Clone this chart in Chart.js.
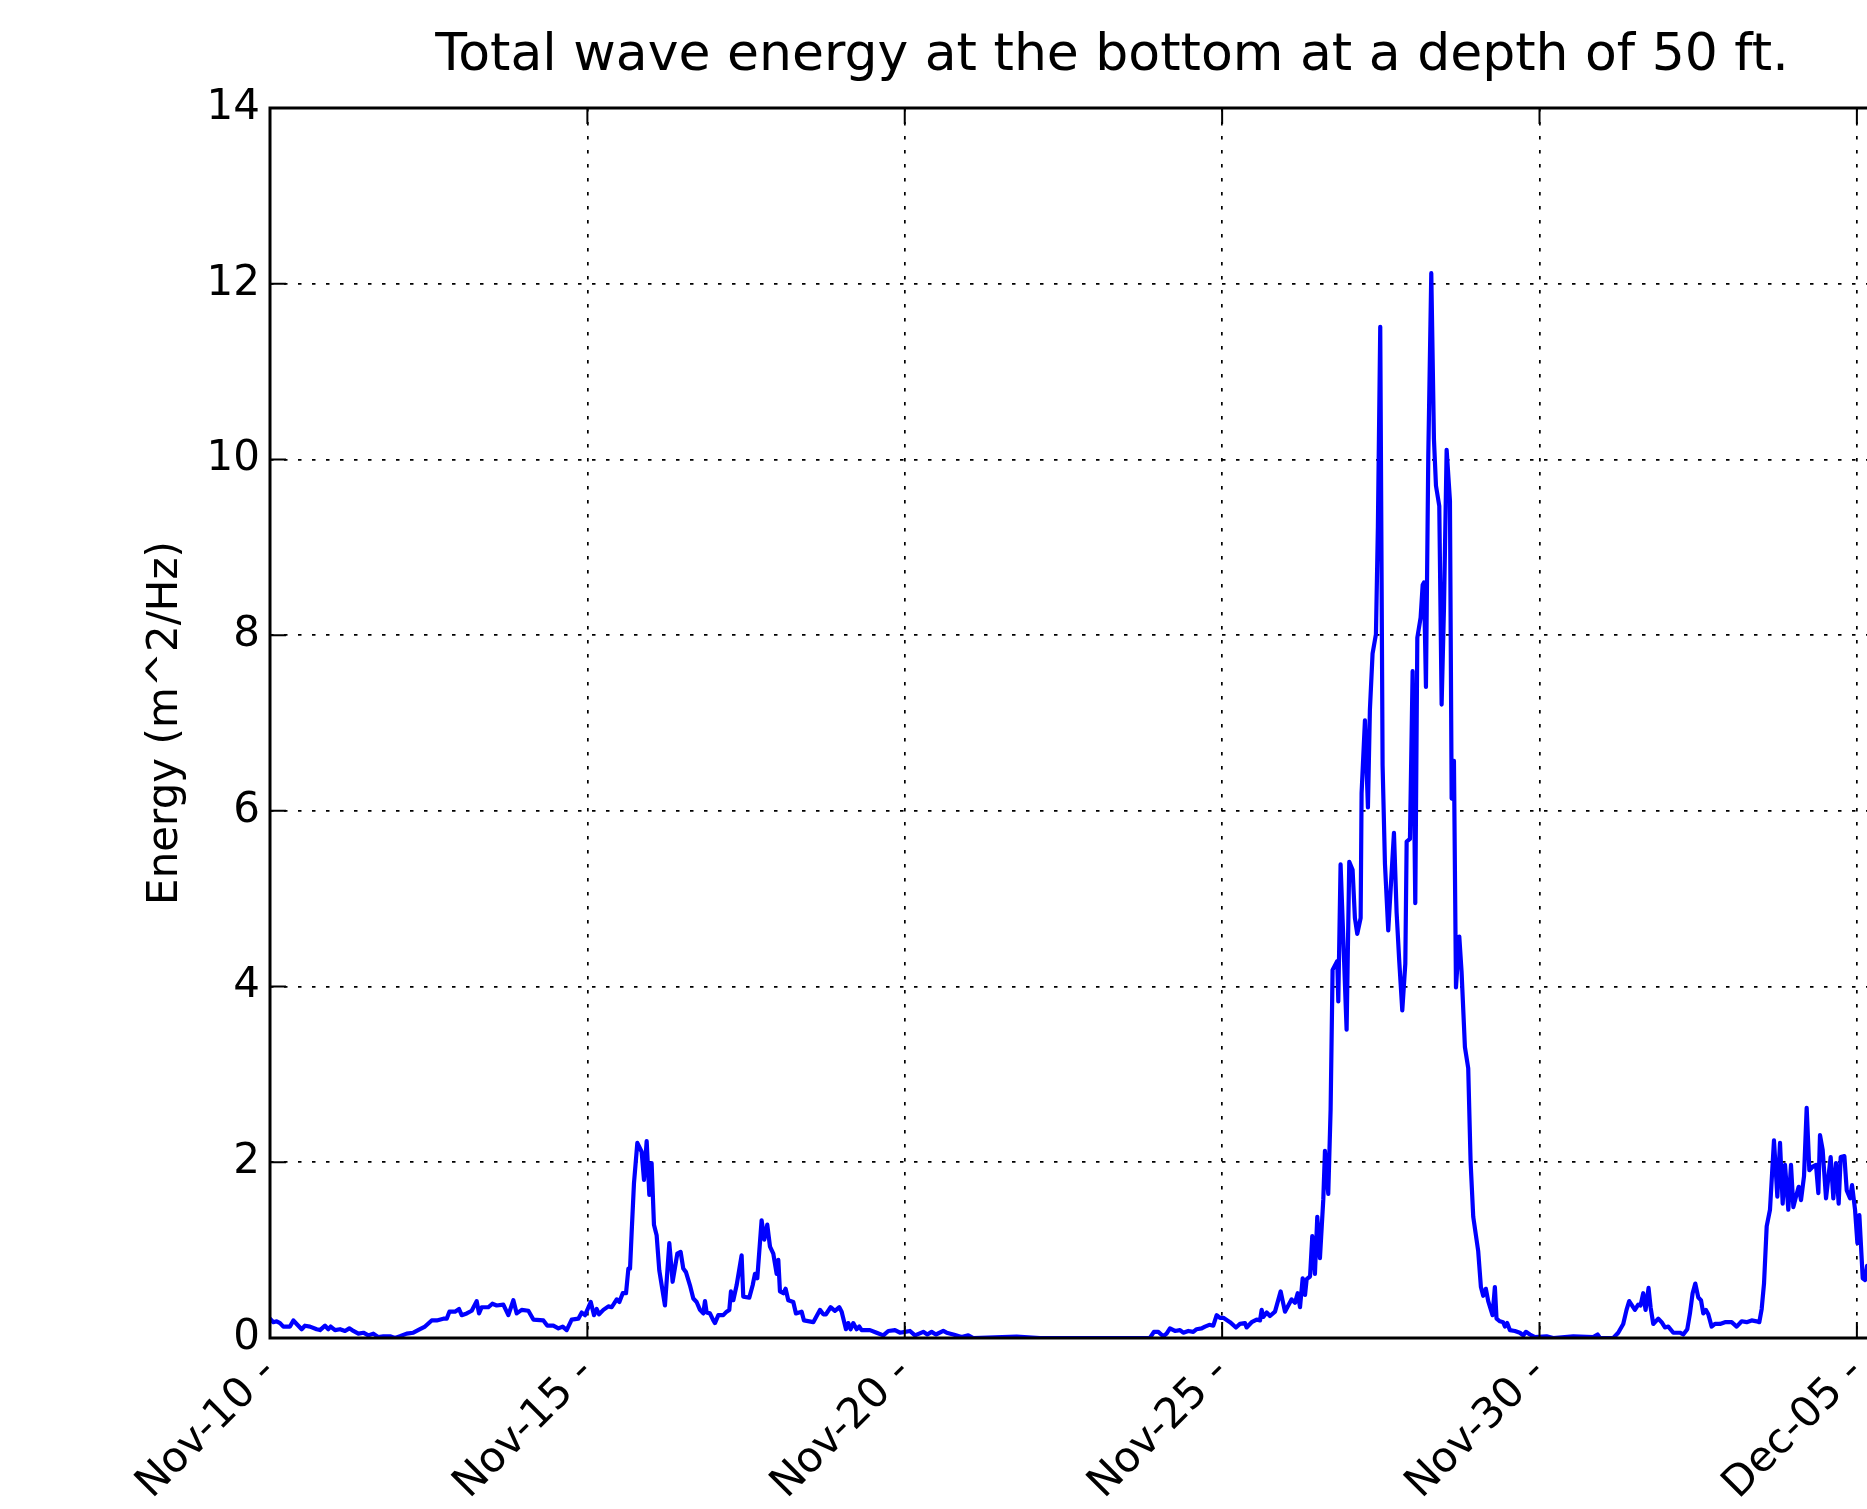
<!DOCTYPE html>
<html>
<head>
<meta charset="utf-8">
<script src="https://cdn.jsdelivr.net/npm/chart.js@4.4.0/dist/chart.umd.min.js"></script>
<style>
html,body{margin:0;padding:0;overflow:hidden;background:#fff;width:1867px;height:1509px}
#wrap{position:absolute;left:0;top:0;width:2224px;height:1509px}
</style>
</head>
<body>
<div id="wrap"><canvas id="c" width="2224" height="1509"></canvas></div>
<script>
// Time in days since Nov-10 00:00
const days = [
0.000,0.053,0.105,0.158,0.210,0.315,0.368,0.420,0.499,0.551,0.630,0.735,0.788,0.867,0.919,0.956,1.024,1.103,1.182,1.250,
1.313,1.392,1.471,1.549,1.628,1.707,1.786,1.891,1.970,2.048,2.153,2.258,2.363,2.442,2.547,2.626,2.731,2.784,2.826,2.915,
2.978,3.020,3.099,3.178,3.256,3.293,3.335,3.440,3.503,3.571,3.676,3.755,3.834,3.887,3.965,4.070,4.149,4.307,4.370,4.464,
4.543,4.611,4.674,4.753,4.858,4.911,4.963,5.053,5.105,5.147,5.184,5.252,5.331,5.383,5.462,5.504,5.557,5.609,5.646,5.672,
5.697,5.734,5.787,5.855,5.892,5.934,5.976,6.012,6.049,6.091,6.133,6.222,6.291,6.343,6.417,6.469,6.511,6.553,6.616,6.669,
6.721,6.774,6.826,6.853,6.879,6.931,6.984,7.010,7.063,7.141,7.194,7.236,7.262,7.299,7.351,7.430,7.456,7.551,7.604,7.640,
7.677,7.745,7.787,7.834,7.877,7.929,7.982,8.008,8.034,8.087,8.123,8.165,8.244,8.286,8.375,8.412,8.559,8.664,8.717,8.759,
8.832,8.900,8.969,9.006,9.074,9.110,9.147,9.189,9.242,9.284,9.321,9.452,9.557,9.662,9.741,9.846,9.924,10.003,10.082,10.161,
10.292,10.355,10.423,10.491,10.607,10.660,10.765,10.896,11.001,11.080,11.762,12.130,13.862,
13.925,13.994,14.072,14.125,14.178,14.257,14.336,14.388,14.467,14.546,14.598,14.677,14.730,14.798,14.861,14.914,14.966,15.019,15.124,15.218,
15.281,15.360,15.386,15.465,15.544,15.597,15.623,15.649,15.702,15.754,15.833,15.922,15.990,16.095,16.148,16.190,16.227,16.269,16.306,16.332,
16.385,16.420,16.462,16.499,16.541,16.594,16.620,16.672,16.709,16.740,16.814,16.830,16.866,16.961,17.003,17.055,17.092,17.129,17.182,
17.197,17.250,17.297,17.328,17.370,17.423,17.454,17.491,17.528,17.565,17.617,17.707,17.749,17.791,17.838,17.886,17.907,17.959,18.001,18.043,
18.075,18.127,18.159,18.180,18.211,18.248,18.295,18.337,18.369,18.421,18.458,18.495,18.537,18.589,18.616,18.652,18.684,18.736,
18.772,18.825,18.877,18.914,18.956,19.034,19.077,19.113,19.155,19.192,19.260,19.297,19.323,
19.376,19.428,19.455,19.491,19.533,19.612,19.691,19.744,19.786,19.849,19.928,20.111,20.217,20.532,20.847,20.915,20.952,21.162,
21.240,21.319,21.371,21.413,21.503,21.555,21.592,21.634,21.671,21.718,21.750,21.792,21.871,21.924,21.976,22.029,22.108,22.213,22.265,22.328,
22.370,22.412,22.454,22.502,22.544,22.580,22.622,22.659,22.712,22.764,22.843,22.922,23.027,23.106,23.185,23.263,23.342,23.421,23.463,23.500,
23.537,23.579,23.631,23.694,23.747,23.789,23.831,23.868,23.920,23.962,23.999,24.041,24.083,24.120,24.167,24.209,24.251,24.304,24.356,24.393,
24.419,24.461,24.514,24.587,24.629,24.671,24.713,24.745,24.803,24.840,24.892,24.924,24.971,25.008,25.039,25.092,25.129,25.160
];
// Total wave energy (m^2/Hz)
const energy = [
0.22,0.18,0.19,0.17,0.13,0.13,0.20,0.16,0.10,0.14,0.13,0.10,0.09,0.14,0.10,0.13,0.09,0.10,0.08,0.11,
0.08,0.05,0.06,0.03,0.05,0.01,0.02,0.02,0.00,0.02,0.05,0.06,0.10,0.13,0.20,0.20,0.22,0.22,0.30,0.30,
0.33,0.26,0.28,0.31,0.42,0.28,0.35,0.35,0.39,0.37,0.38,0.26,0.43,0.28,0.32,0.31,0.21,0.20,0.14,0.14,
0.11,0.13,0.09,0.21,0.22,0.29,0.26,0.41,0.26,0.33,0.27,0.32,0.36,0.35,0.44,0.41,0.51,0.51,0.79,0.79,
1.19,1.76,2.22,2.12,1.80,2.24,1.63,1.99,1.29,1.17,0.77,0.37,1.08,0.64,0.96,0.98,0.79,0.75,0.60,0.45,
0.41,0.32,0.28,0.42,0.29,0.28,0.20,0.17,0.26,0.26,0.30,0.32,0.53,0.43,0.60,0.94,0.47,0.46,0.60,0.73,
0.68,1.34,1.12,1.29,1.04,0.96,0.73,0.89,0.53,0.51,0.56,0.43,0.41,0.28,0.30,0.20,0.18,0.32,0.27,0.27,
0.35,0.31,0.35,0.30,0.10,0.17,0.10,0.17,0.10,0.13,0.09,0.09,0.06,0.03,0.08,0.09,0.06,0.07,0.08,0.03,
0.07,0.04,0.07,0.04,0.08,0.06,0.04,0.01,0.03,0.00,0.015,0.00,0.00,
0.07,0.07,0.02,0.05,0.11,0.08,0.09,0.06,0.08,0.07,0.10,0.11,0.13,0.15,0.14,0.26,0.23,0.23,0.18,0.12,
0.16,0.17,0.12,0.18,0.21,0.20,0.32,0.24,0.29,0.25,0.30,0.53,0.30,0.44,0.40,0.51,0.35,0.68,0.49,0.67,
0.70,1.16,0.73,1.38,0.91,1.58,2.13,1.64,2.60,4.19,4.29,3.83,5.39,3.51,5.42,5.33,4.78,4.60,4.78,
6.20,7.03,6.04,7.15,7.79,8.01,9.24,11.51,6.52,5.40,4.64,5.75,4.84,4.28,3.73,4.26,5.65,5.68,7.59,4.95,
7.97,8.20,8.57,8.60,7.41,10.05,12.12,10.23,9.70,9.47,7.21,8.31,10.11,9.53,6.14,6.57,3.99,4.57,
4.17,3.31,3.07,2.01,1.38,0.99,0.58,0.48,0.56,0.42,0.26,0.58,0.22,
0.19,0.18,0.13,0.17,0.09,0.08,0.06,0.03,0.07,0.04,0.01,0.02,0.00,0.02,0.01,0.04,0.00,0.00,
0.06,0.16,0.32,0.42,0.32,0.38,0.37,0.51,0.32,0.57,0.35,0.16,0.22,0.18,0.12,0.13,0.06,0.06,0.04,0.10,
0.28,0.51,0.62,0.46,0.43,0.28,0.32,0.27,0.13,0.16,0.16,0.18,0.18,0.13,0.19,0.18,0.20,0.19,0.18,0.33,
0.62,1.27,1.46,2.25,1.61,2.22,1.53,1.97,1.46,1.97,1.49,1.61,1.72,1.57,1.84,2.62,1.91,1.95,1.97,1.65,
2.31,2.14,1.59,2.06,1.59,1.99,1.53,2.06,2.07,1.68,1.59,1.74,1.46,1.08,1.40,0.68,0.66,0.82
];
const tickDays = [0, 5, 10, 15, 20, 25];
const tickLabels = ['Nov-10 -', 'Nov-15 -', 'Nov-20 -', 'Nov-25 -', 'Nov-30 -', 'Dec-05 -'];
const yTicks = [0, 2, 4, 6, 8, 10, 12, 14];
const X_MAX = 26.53;
const TITLE = 'Total wave energy at the bottom at a depth of 50 ft.';
const Y_TITLE = 'Energy (m^2/Hz)';
const FONT = '"DejaVu Sans", sans-serif';
const TICK_LEN = 16;

const points = days.map((d, i) => ({x: d, y: energy[i]}));

const framePlugin = {
  id: 'frame',
  afterDatasetsDraw(chart) {
    const {ctx, chartArea: a, scales: {x, y}} = chart;
    ctx.save();
    ctx.strokeStyle = '#000';
    ctx.lineWidth = 2;
    ctx.setLineDash([]);
    ctx.beginPath();
    tickDays.forEach(d => {
      const px = x.getPixelForValue(d);
      ctx.moveTo(px, a.bottom); ctx.lineTo(px, a.bottom - TICK_LEN);
      ctx.moveTo(px, a.top); ctx.lineTo(px, a.top + TICK_LEN);
    });
    yTicks.forEach(v => {
      const py = y.getPixelForValue(v);
      ctx.moveTo(a.left, py); ctx.lineTo(a.left + TICK_LEN, py);
      ctx.moveTo(a.right, py); ctx.lineTo(a.right - TICK_LEN, py);
    });
    ctx.stroke();
    ctx.lineWidth = 3;
    ctx.strokeRect(a.left, a.top, a.right - a.left, a.bottom - a.top);
    ctx.restore();
  }
};

new Chart(document.getElementById('c'), {
  type: 'line',
  data: {
    datasets: [{
      data: points,
      borderColor: '#0000ff',
      borderWidth: 4.2,
      borderJoinStyle: 'round',
      borderCapStyle: 'round',
      pointRadius: 0,
      tension: 0,
      fill: false
    }]
  },
  options: {
    responsive: false,
    animation: false,
    devicePixelRatio: 1,
    layout: {padding: {left: 0, right: 270, top: 0, bottom: 0}},
    plugins: {
      legend: {display: false},
      tooltip: {enabled: false},
      title: {
        display: true,
        fullSize: false,
        text: TITLE,
        color: '#000',
        font: {family: FONT, size: 52, weight: 'normal'},
        padding: {top: 25, bottom: 20.6}
      }
    },
    scales: {
      x: {
        type: 'linear',
        min: 0,
        max: X_MAX,
        afterBuildTicks: s => { s.ticks = tickDays.map(v => ({value: v})); },
        afterFit: s => { s.height = 171; },
        ticks: {
          autoSkip: false,
          maxRotation: 45,
          minRotation: 45,
          padding: 10,
          color: '#000',
          font: {family: FONT, size: 42},
          callback: v => { const i = tickDays.indexOf(v); return i >= 0 ? tickLabels[i] : ''; }
        },
        grid: {color: '#000', lineWidth: 1.7, drawTicks: false},
        border: {display: false, dash: [3.5, 10.5]}
      },
      y: {
        type: 'linear',
        min: 0,
        max: 14,
        afterBuildTicks: s => { s.ticks = yTicks.map(v => ({value: v})); },
        afterFit: s => { s.width = 270; },
        ticks: {
          padding: 10,
          color: '#000',
          font: {family: FONT, size: 42}
        },
        title: {
          display: true,
          text: Y_TITLE,
          color: '#000',
          font: {family: FONT, size: 42},
          padding: {top: 141, bottom: 0}
        },
        grid: {color: '#000', lineWidth: 1.7, drawTicks: false},
        border: {display: false, dash: [3.5, 10.5]}
      }
    }
  },
  plugins: [framePlugin]
});
</script>
</body>
</html>
